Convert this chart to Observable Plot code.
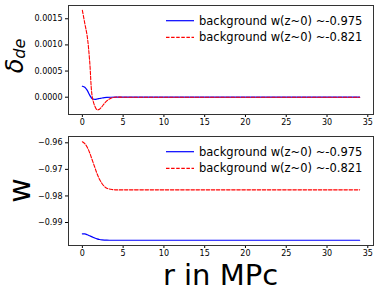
<!DOCTYPE html>
<html>
<head>
<meta charset="utf-8">
<script src="https://cdn.jsdelivr.net/npm/d3@7"></script>
<script src="https://cdn.jsdelivr.net/npm/@observablehq/plot@0.6"></script>
<style>
  html, body { margin: 0; padding: 0; background: #fff; }
  #wrap { position: relative; width: 379px; height: 292px; overflow: hidden; font-family: "DejaVu Sans", sans-serif; }
  #wrap > div.panel { position: absolute; left: 0; }
  #overlay { position: absolute; left: 0; top: 0; pointer-events: none; }
</style>
</head>
<body>
<div id="wrap">
  <div class="panel" id="top" style="top:0px"></div>
  <div class="panel" id="bottom" style="top:130px"></div>
</div>
<script>
// radius (MPc)
const r = [0, 0.3, 0.6, 0.9, 1.2, 1.5, 1.8, 2.1, 2.4, 2.7, 3.0, 3.5, 4, 5, 6, 8, 10, 14, 18, 22, 26, 30, 34];
// delta_de
const deltaBlue = [0.00021, 0.00019, 0.00013, 0.00004, -0.00003, -0.00004, -0.000035, -0.000025, -0.000015, -0.000008, -0.000004, -0.000001, 0, 0, 0, 0, 0, 0, 0, 0, 0, 0, 0];
const deltaRed = [0.00166, 0.00141, 0.00116, 0.00068, 0.00002, -0.00016, -0.00024, -0.00023, -0.00018, -0.00012, -0.00007, -0.00002, 0, 0, 0, 0, 0, 0, 0, 0, 0, 0, 0];
// w
const wBlue = [-0.99425, -0.9943, -0.9946, -0.9950, -0.9954, -0.9958, -0.99615, -0.9964, -0.99655, -0.99662, -0.99665, -0.99667, -0.99667, -0.99667, -0.99667, -0.99667, -0.99667, -0.99667, -0.99667, -0.99667, -0.99667, -0.99667, -0.99667];
const wRed = [-0.9596, -0.9603, -0.9617, -0.9638, -0.9664, -0.9690, -0.9716, -0.9737, -0.9753, -0.9764, -0.9771, -0.9775, -0.9777, -0.9777, -0.9777, -0.9777, -0.9777, -0.9777, -0.9777, -0.9777, -0.9777, -0.9777, -0.9777];

const seriesLabels = ["background w(z~0) ~-0.975", "background w(z~0) ~-0.821"];
const xTicks = [0, 5, 10, 15, 20, 25, 30, 35];
const deltaTicks = [0, 0.0005, 0.0010, 0.0015];
const wTicks = [-0.99, -0.98, -0.97, -0.96];

const blueColor = "#0000ff";
const redColor = "#ff0000";

function rows(ys) { return r.map((x, i) => ({ r: x, v: ys[i] })); }

function panel(opts) {
  return Plot.plot({
    width: 379,
    height: opts.height,
    marginLeft: 68,
    marginRight: 6,
    marginTop: opts.marginTop,
    marginBottom: opts.marginBottom,
    style: { fontFamily: "DejaVu Sans", fontSize: "8px", color: "#000", background: "#fff" },
    x: { domain: [-1.7, 35.7] },
    y: { domain: opts.yDomain },
    marks: [
      Plot.axisX({ ticks: xTicks, tickSize: 3, tickPadding: 2, label: null, tickFormat: d3.format("d") }),
      Plot.axisY({ ticks: opts.yTicks, tickSize: 3, tickPadding: 3, label: null, tickFormat: opts.yFormat }),
      Plot.line(rows(opts.blue), { x: "r", y: "v", stroke: blueColor, strokeWidth: 1.2, curve: "catmull-rom" }),
      Plot.line(rows(opts.red), { x: "r", y: "v", stroke: redColor, strokeWidth: 1.1, strokeDasharray: "3.5,1.6", curve: "catmull-rom" }),
      Plot.frame({ stroke: "#333", strokeWidth: 1 })
    ]
  });
}

document.getElementById("top").appendChild(panel({
  height: 130, marginTop: 5, marginBottom: 16,
  yDomain: [-0.000331, 0.001754], yTicks: deltaTicks, yFormat: d3.format(".4f"),
  blue: deltaBlue, red: deltaRed
}));
document.getElementById("bottom").appendChild(panel({
  height: 162, marginTop: 6, marginBottom: 47,
  yDomain: [-0.99865, -0.95763], yTicks: wTicks, yFormat: d3.format(".2f"),
  blue: wBlue, red: wRed
}));

// overlay: legends and axis titles
const ov = d3.select("#wrap").append("svg").attr("id", "overlay")
  .attr("width", 379).attr("height", 292)
  .style("font-family", "DejaVu Sans, sans-serif");

function legend(rowYs) {
  const styles = [{ c: blueColor, d: null }, { c: redColor, d: "3.5,1.6" }];
  rowYs.forEach((y, i) => {
    ov.append("line").attr("x1", 166).attr("x2", 194).attr("y1", y).attr("y2", y)
      .attr("stroke", styles[i].c).attr("stroke-width", 1.2)
      .attr("stroke-dasharray", styles[i].d);
    ov.append("text").attr("x", 199).attr("y", y).attr("dy", "0.36em")
      .attr("font-size", 11.5).attr("fill", "#000").text(seriesLabels[i]);
  });
}
legend([20.7, 37.3]);
legend([151.7, 168.3]);

// y label top: delta_de
const dl = ov.append("text").attr("transform", "translate(23,56) rotate(-90)")
  .attr("text-anchor", "middle").attr("fill", "#000");
dl.append("tspan").attr("font-size", 24).attr("font-style", "italic").text("δ");
dl.append("tspan").attr("font-size", 16).attr("font-style", "italic").attr("dy", 2).text("de");

// y label bottom: w
ov.append("text").attr("transform", "translate(30,190.5) rotate(-90)")
  .attr("text-anchor", "middle").attr("font-size", 30).attr("fill", "#000").text("w");

// x label
ov.append("text").attr("x", 220.5).attr("y", 285)
  .attr("text-anchor", "middle").attr("font-size", 29).attr("fill", "#000").text("r in MPc");
</script>
</body>
</html>
